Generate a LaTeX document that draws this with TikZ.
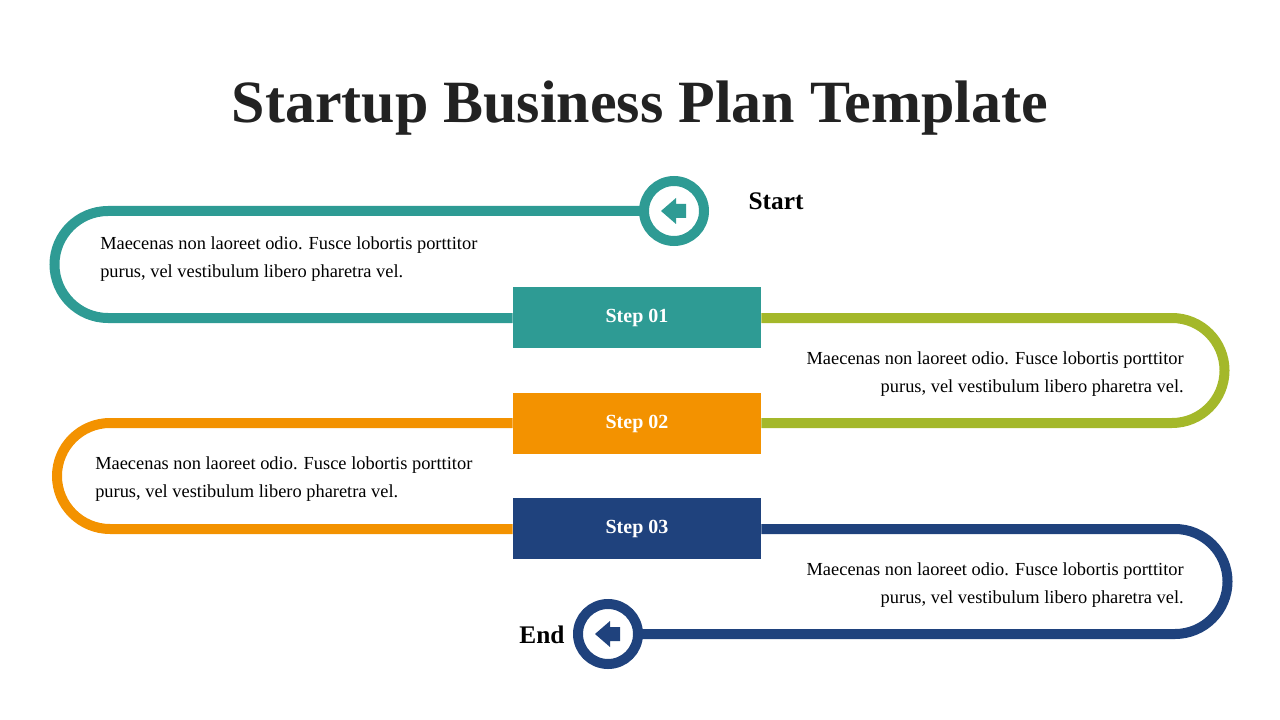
\documentclass[tikz,border=0pt]{standalone}
\usepackage{fontspec}
\setmainfont{Liberation Serif}
\definecolor{teal1}{HTML}{2E9B94}
\definecolor{green1}{HTML}{A4B82A}
\definecolor{orange1}{HTML}{F39200}
\definecolor{navy1}{HTML}{1F427D}
\definecolor{title1}{HTML}{222222}
\begin{document}
\begin{tikzpicture}[x=0.75pt,y=-0.75pt,
  pathline/.style={line width=7.5pt},
  stepbox/.style={minimum width=186pt,minimum height=46pt,inner sep=0pt,text=white,font=\bfseries\fontsize{15}{18}\selectfont},
  desc/.style={font=\fontsize{13.8}{21}\selectfont,text=black,inner sep=0pt},
  ring/.style={circle,line width=7.5pt,minimum size=45pt,inner sep=0pt,fill=white}]
\useasboundingbox (0,0) rectangle (1280,720);
\node[font=\bfseries\fontsize{45}{52}\selectfont,text=title1] (title) at (640,108) {Startup Business Plan Template};
% boxes
\node[stepbox,fill=teal1] (s1) at (637,317.5) {Step 01};
\node[stepbox,fill=orange1] (s2) at (637,423.5) {Step 02};
\node[stepbox,fill=navy1] (s3) at (637,528.5) {Step 03};
% paths
\draw[pathline,teal1] (674,211) -- (108,211) arc[start angle=-90,end angle=-270,radius=53.5] -- (s1.west |- 0,318);
\draw[pathline,green1] (s1.east |- 0,318) -- (1172,318) arc[start angle=-90,end angle=90,radius=52.5] -- (s2.east |- 0,423);
\draw[pathline,orange1] (s2.west |- 0,423) -- (110,423) arc[start angle=-90,end angle=-270,radius=53] -- (s3.west |- 0,529);
\draw[pathline,navy1] (s3.east |- 0,529) -- (1175,529) arc[start angle=-90,end angle=90,radius=52.5] -- (608,634);
\node[ring,draw=teal1] (start) at (674,211) {};
\node[ring,draw=navy1] (end) at (608,634) {};
% arrows
\fill[teal1] (661,211) -- (676,198) -- (676,204) -- (686,204) -- (686,218) -- (676,218) -- (676,224) -- cycle;
\fill[navy1] (595,634) -- (610,621) -- (610,627) -- (620,627) -- (620,641) -- (610,641) -- (610,647) -- cycle;
\node[font=\bfseries\fontsize{19}{22}\selectfont] (lstart) at (776,201) {Start};
\node[font=\bfseries\fontsize{19}{22}\selectfont] (lend) at (542,635) {End};
% descriptions
\node[desc,anchor=north west,align=left] (d1) at (100,236) {Maecenas non laoreet odio. Fusce lobortis porttitor\\purus, vel vestibulum libero pharetra vel.};
\node[desc,anchor=north east,align=right] (d2) at (1184,351) {Maecenas non laoreet odio. Fusce lobortis porttitor\\purus, vel vestibulum libero pharetra vel.};
\node[desc,anchor=north west,align=left] (d3) at (95,456) {Maecenas non laoreet odio. Fusce lobortis porttitor\\purus, vel vestibulum libero pharetra vel.};
\node[desc,anchor=north east,align=right] (d4) at (1184,562) {Maecenas non laoreet odio. Fusce lobortis porttitor\\purus, vel vestibulum libero pharetra vel.};
\end{tikzpicture}
\end{document}
